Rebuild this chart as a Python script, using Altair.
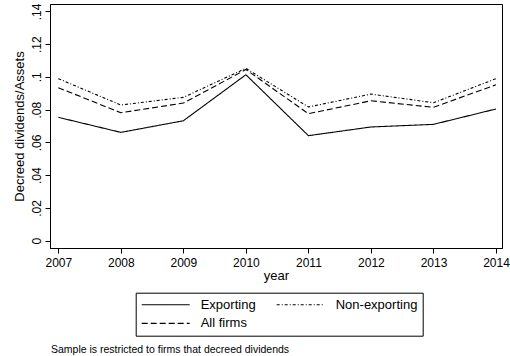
import altair as alt
import pandas as pd

# Mean decreed dividends over assets, by exporter status
years = [2007, 2008, 2009, 2010, 2011, 2012, 2013, 2014]
exporting = [0.0753, 0.0661, 0.0732, 0.1013, 0.0641, 0.0694, 0.0710, 0.0804]
non_exporting = [0.0989, 0.0828, 0.0875, 0.1052, 0.0816, 0.0895, 0.0842, 0.0989]
all_firms = [0.0934, 0.0781, 0.0840, 0.1045, 0.0775, 0.0854, 0.0814, 0.0952]

# Legend entries fill column by column: Exporting / All firms, then Non-exporting
series_names = ["Exporting", "All firms", "Non-exporting"]
series_values = [exporting, all_firms, non_exporting]
series_dash = [[1, 0], [6, 3], [3, 2, 1, 2]]
y_ticks = [0, 0.02, 0.04, 0.06, 0.08, 0.10, 0.12, 0.14]

rows = []
for name, vals in zip(series_names, series_values):
    for yr, v in zip(years, vals):
        rows.append({"year": yr, "value": v, "series": name})
df = pd.DataFrame(rows)

FONT = "Liberation Sans"

chart = (
    alt.Chart(
        df,
        title=alt.TitleParams(
            "Sample is restricted to firms that decreed dividends",
            orient="bottom",
            anchor="start",
            fontSize=10.5,
            fontWeight="normal",
            font=FONT,
            color="black",
            offset=9,
            dx=38,
        ),
    )
    .mark_line(color="black", strokeWidth=1.1)
    .encode(
        x=alt.X(
            "year:Q",
            scale=alt.Scale(domain=[2006.867, 2014.096], nice=False, zero=False),
            axis=alt.Axis(
                values=years,
                format="d",
                title="year",
                grid=False,
                tickSize=5,
                labelPadding=4,
                titlePadding=1,
                labelFontSize=12,
                titleFontSize=13,
                titleFontWeight="normal",
                labelFlush=False,
            ),
        ),
        y=alt.Y(
            "value:Q",
            scale=alt.Scale(domain=[-0.0045, 0.1445], nice=False, zero=False),
            axis=alt.Axis(
                values=y_ticks,
                labelExpr="replace(format(datum.value, '.2~f'), '0.', '.')",
                labelAngle=270,
                labelAlign="center",
                labelBaseline="bottom",
                title="Decreed dividends/Assets",
                grid=False,
                tickSize=5,
                labelPadding=2,
                titlePadding=4,
                labelFontSize=12,
                titleFontSize=13,
                titleFontWeight="normal",
            ),
        ),
        strokeDash=alt.StrokeDash(
            "series:N",
            scale=alt.Scale(domain=series_names, range=series_dash),
            legend=alt.Legend(
                title=None,
                orient="none",
                legendX=85.7,
                legendY=288.7,
                columns=2,
                strokeColor="black",
                fillColor="white",
                padding=5,
                symbolType="stroke",
                symbolSize=2304,
                symbolStrokeWidth=1.1,
                symbolStrokeColor="black",
                clipHeight=14,
                rowPadding=4.7,
                columnPadding=20,
                labelOffset=10,
                labelFontSize=13,
                labelFont=FONT,
                labelColor="black",
                labelLimit=200,
            ),
        ),
    )
    .properties(
        width=452,
        height=244,
        padding={"left": 50, "top": 4, "right": 8, "bottom": 108},
        autosize="none",
    )
    .configure_view(stroke="black", strokeWidth=1)
    .configure_axis(
        domainColor="black",
        tickColor="black",
        labelColor="black",
        titleColor="black",
        labelFont=FONT,
        titleFont=FONT,
    )
)

chart.save("out.html", embed_options={"renderer": "svg", "actions": False})
